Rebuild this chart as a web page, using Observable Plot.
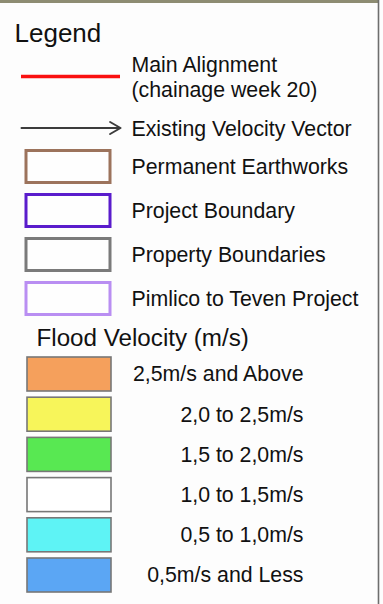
<!DOCTYPE html>
<html>
<head>
<meta charset="utf-8">
<script src="https://cdn.jsdelivr.net/npm/d3@7"></script>
<script src="https://cdn.jsdelivr.net/npm/@observablehq/plot@0.6"></script>
<style>
  html, body { margin: 0; padding: 0; background: #fff; }
  #chart { width: 383px; height: 604px; overflow: hidden; }
</style>
</head>
<body>
<div id="chart"></div>
<script>
// ---- Data ----
const legendTitle = "Legend";
const lineLabels = ["Main Alignment\n(chainage week 20)", "Existing Velocity Vector"];
const lineColors = ["#fa1010", "#3c3c3c"];
const boundaryLabels = ["Permanent Earthworks", "Project Boundary", "Property Boundaries", "Pimlico to Teven Project"];
const boundaryColors = ["#9c735c", "#5a1ccc", "#7a7a7a", "#b98ef2"];
const velocityTitle = "Flood Velocity (m/s)";
const velocityLabels = ["2,5m/s and Above", "2,0 to 2,5m/s", "1,5 to 2,0m/s", "1,0 to 1,5m/s", "0,5 to 1,0m/s", "0,5m/s and Less"];
const velocityColors = ["#f5a05c", "#f7f55a", "#58e852", "#ffffff", "#5ef3f5", "#5ba6f4"];

// ---- Layout (positions in px on a 383x604 canvas) ----
const W = 383, H = 604;
const font = "'Liberation Sans', Arial, Helvetica, sans-serif";
const swX1 = 26, swX2 = 110, textX = 131;
const itemSize = 21.3;
const lineRowsY = [76, 127.5];
const bRows = boundaryLabels.map((label, i) => ({label, color: boundaryColors[i], y: 166.5 + i * 44}));
const vRows = velocityLabels.map((label, i) => ({label, color: velocityColors[i], y: 374 + i * 40.2}));
const lineRows = lineLabels.map((label, i) => ({label, color: lineColors[i], y: lineRowsY[i]}));

const plot = Plot.plot({
  width: W, height: H,
  margin: 0,
  x: {domain: [0, W], range: [0, W], axis: null},
  y: {domain: [0, H], range: [0, H], axis: null},
  style: {background: "#fdfdfd", fontFamily: font, color: "#111"},
  marks: [
    // map remnant strip at top and box border on the right
    Plot.ruleY([1], {x1: 0, x2: 378, stroke: "#8d8c72", strokeWidth: 3}),
    Plot.ruleX([378], {y1: 0, y2: H, stroke: "#6e6e6e", strokeWidth: 1.6}),

    // title
    Plot.text([legendTitle], {x: 14, y: 33, text: d => d, textAnchor: "start", fontSize: 26, fill: "#111"}),

    // line items
    Plot.ruleY([lineRows[0]], {x1: 21, x2: 120, y: "y", stroke: "color", strokeWidth: 3.5}),
    Plot.arrow([lineRows[1]], {x1: 21, x2: 120, y1: "y", y2: "y", stroke: "color", strokeWidth: 2, headLength: 9}),
    Plot.text(lineRows, {x: textX, y: "y", text: "label", textAnchor: "start", fontSize: itemSize, lineHeight: 1.18, fill: "#111"}),

    // boundary swatches
    Plot.rect(bRows, {x1: swX1, x2: swX2, y1: d => d.y - 16, y2: d => d.y + 16, fill: "#fefefe", stroke: "color", strokeWidth: 3}),
    Plot.text(bRows, {x: textX, y: "y", text: "label", textAnchor: "start", fontSize: itemSize, fill: "#111"}),

    // velocity section
    Plot.text([velocityTitle], {x: 36, y: 338, text: d => d, textAnchor: "start", fontSize: 24.2, fill: "#111"}),
    Plot.rect(vRows, {x1: swX1 + 1, x2: swX2 + 1, y1: d => d.y - 17, y2: d => d.y + 17, fill: "color", stroke: "#777", strokeWidth: 1.6}),
    Plot.text(vRows, {x: 303, y: "y", text: "label", textAnchor: "end", fontSize: itemSize, fill: "#111"})
  ]
});
document.getElementById("chart").appendChild(plot);
</script>
</body>
</html>
